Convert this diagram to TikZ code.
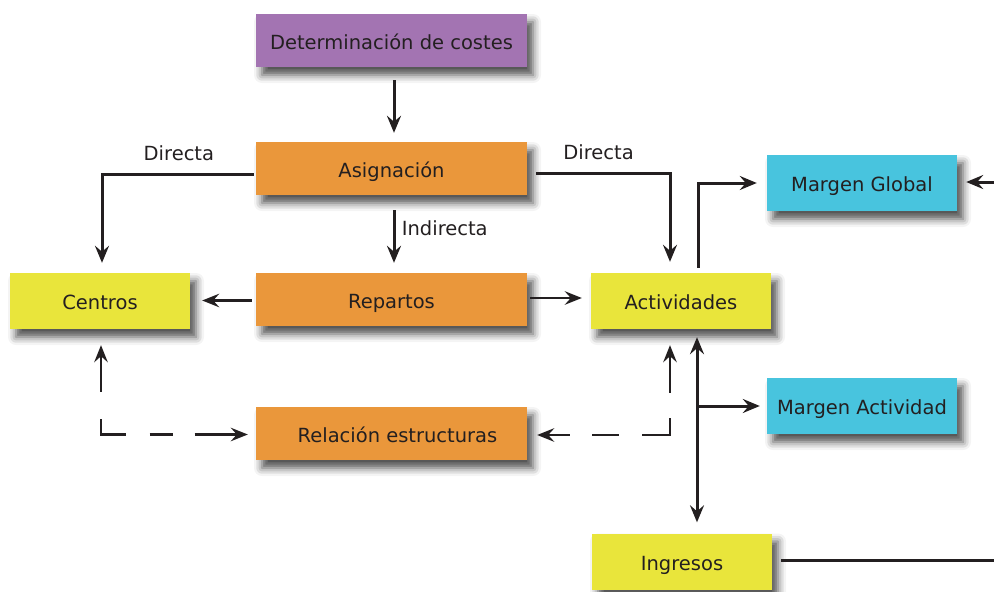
\documentclass[tikz,border=0pt]{standalone}
\usepackage{fontspec}
\setmainfont{DejaVu Sans}
\usetikzlibrary{arrows.meta,shadows.blur}
\definecolor{ink}{HTML}{231F20}
\definecolor{purp}{HTML}{A374B2}
\definecolor{orng}{HTML}{EA973B}
\definecolor{yell}{HTML}{E9E53B}
\definecolor{cyan2}{HTML}{48C4DE}
\begin{document}
\begin{tikzpicture}[x=1pt,y=-1pt,
  box/.style={rectangle, inner sep=0pt, text=ink, font=\fontsize{19.5}{23}\selectfont,
    text height=18pt, text depth=1pt,
    blur shadow={shadow xshift=6pt, shadow yshift=-8pt, shadow blur radius=8pt, shadow opacity=70}},
  widebox/.style={box, minimum width=271pt, minimum height=53pt},
  yellowbox/.style={box, fill=yell, minimum width=180pt, minimum height=56pt},
  cyanbox/.style={box, fill=cyan2, minimum width=190pt, minimum height=56pt},
  lbl/.style={text=ink, font=\fontsize{19.5}{23}\selectfont},
  arr/.style={draw=ink, line width=3pt, -{Stealth[length=17pt,width=14pt,inset=6pt]}},
  darr/.style={draw=ink, line width=3pt, {Stealth[length=17pt,width=14pt,inset=6pt]}-{Stealth[length=17pt,width=14pt,inset=6pt]}},
  thinarr/.style={draw=ink, line width=2.5pt, -{Stealth[length=17pt,width=13.5pt,inset=6pt]}},
  dasharr/.style={draw=ink, line width=2.5pt, {Stealth[length=17pt,width=13.5pt,inset=6pt]}-{Stealth[length=17pt,width=13.5pt,inset=6pt]}},
  plain/.style={draw=ink, line width=3pt}
]
\path[use as bounding box] (0,0) rectangle (994,592);

\node[widebox, fill=purp] (det) at (391.5,40.5) {Determinación de costes};
\node[widebox, fill=orng] (asig) at (391.5,168.5) {Asignación};
\node[widebox, fill=orng] (rep) at (391.5,299.5) {Repartos};
\node[widebox, fill=orng] (rel) at (391.5,433.5) {\hspace{12pt}Relación estructuras};
\node[yellowbox] (cen) at (100,301) {Centros};
\node[yellowbox] (act) at (681,301) {Actividades};
\node[yellowbox] (ing) at (682,561.5) {Ingresos};
\node[cyanbox] (mg) at (862,183) {Margen Global};
\node[cyanbox] (ma) at (862,406) {Margen Actividad};

\coordinate (mgIn) at (994,182);
\coordinate (ingOut) at (994,560);
\coordinate (vx) at ([xshift=16pt]act.south);
\coordinate (asigL) at ([yshift=-5.5pt]asig.west);
\coordinate (asigR) at ([yshift=-4.5pt]asig.east);
\coordinate (actL) at ([xshift=-11pt]act.north);
\coordinate (actR) at ([xshift=17pt]act.north);
\coordinate (actB) at ([xshift=-11pt]act.south);
\coordinate (cenT) at ([xshift=2pt]cen.north);
\coordinate (cenB) at ([xshift=1pt]cen.south);
\coordinate (repL) at ([yshift=-1pt]rep.west);
\coordinate (repR) at ([yshift=1.5pt]rep.east);
\coordinate (relL) at ([yshift=-1pt]rel.west);
\coordinate (relR) at ([yshift=-1.5pt]rel.east);

% main flow
\draw[arr, shorten <=13pt, shorten >=9pt] ([xshift=2.5pt]det.south) -- ([xshift=2.5pt]asig.north);
\draw[arr, shorten <=2pt, shorten >=10pt] (asigL) -- (cenT |- asigL)
   node[lbl, midway, above=8pt] {Directa} -- (cenT);
\draw[arr, shorten <=9pt, shorten >=11pt] (asigR) -- (actL |- asigR)
   node[lbl, midway, above=8pt] {Directa} -- (actL);
\draw[arr, shorten <=15pt, shorten >=10pt] ([xshift=2.5pt]asig.south) -- ([xshift=2.5pt]rep.north)
   node[lbl, midway, right=3pt, yshift=6pt] {Indirecta};
\draw[thinarr, shorten <=4pt, shorten >=12pt] (repL) -- (cen.east |- repL);
\draw[thinarr, shorten <=3pt, shorten >=9pt] (repR) -- (act.west |- repR);

% right side
\draw[arr, shorten <=5pt, shorten >=10pt] (actR) |- (mg.west);
\draw[arr, shorten >=9pt] (mgIn) -- (mg.east |- mgIn);
\draw[darr, shorten <=8pt, shorten >=11pt] (vx) -- (vx |- ing.north);
\draw[arr, shorten >=7pt] (vx |- ma.west) -- (ma.west);
\draw[plain, shorten <=9pt] (ing.east |- ingOut) -- (ingOut);

% dashed relations
\draw[dasharr, dash pattern=on 37pt off 27pt on 40pt off 24pt on 23pt off 22pt on 80pt,
      shorten <=16pt, shorten >=8pt]
  (cenB) -- (cenB |- relL) -- (relL);
\draw[dasharr, dash pattern=on 38pt off 25pt on 45pt off 23pt on 27pt off 22pt on 80pt,
      shorten <=16pt, shorten >=10pt]
  (actB) -- (actB |- relR) -- (relR);
\end{tikzpicture}
\end{document}
